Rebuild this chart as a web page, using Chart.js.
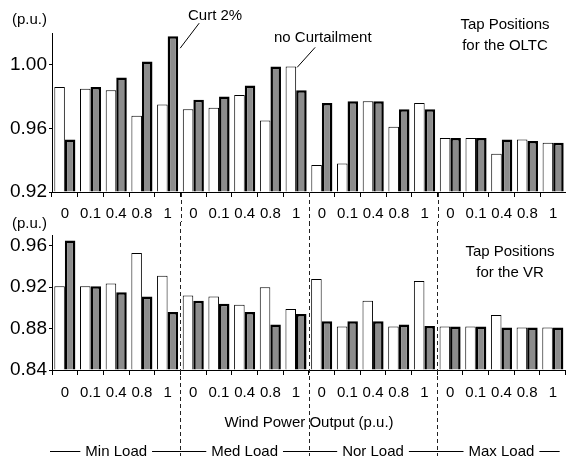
<!DOCTYPE html>
<html>
<head>
<meta charset="utf-8">
<script src="https://cdn.jsdelivr.net/npm/chart.js@4/dist/chart.umd.min.js"></script>
<style>
html,body{margin:0;padding:0;background:#fff;}
#wrap{position:relative;width:566px;height:456px;overflow:hidden;font-family:"Liberation Sans",Arial,sans-serif;color:#000;background:#fff;}
.cv{position:absolute;left:0;width:566px;}
.t{position:absolute;font-size:15px;line-height:18px;white-space:nowrap;}
.c2{position:absolute;font-size:15px;line-height:21px;white-space:nowrap;text-align:center;transform:translateX(-50%);}
</style>
</head>
<body>
<div id="wrap">
  <div class="cv" style="top:0;height:222px"><canvas id="oltc"></canvas></div>
  <div class="cv" style="top:222px;height:234px"><canvas id="vr"></canvas></div>
  <div class="t" style="left:12px;top:10px">(p.u.)</div>
  <div class="t" style="left:12px;top:214px">(p.u.)</div>
  <div class="t" style="left:188px;top:6px">Curt 2%</div>
  <div class="t" style="left:274px;top:28px">no Curtailment</div>
  <div class="c2" style="left:505px;top:13px">Tap Positions<br>for the OLTC</div>
  <div class="c2" style="left:510px;top:240px">Tap Positions<br>for the VR</div>
  <div class="t" style="left:309px;top:413px;transform:translateX(-50%)">Wind Power Output (p.u.)</div>
</div>
<script>
const windLevels = ['0', '0.1', '0.4', '0.8', '1'];
const loadLevels = ['Min Load', 'Med Load', 'Nor Load', 'Max Load'];
const categories = loadLevels.flatMap(() => windLevels);

const oltcNoCurt = [0.986, 0.985, 0.984, 0.968, 0.975, 0.972, 0.973, 0.981, 0.965, 0.999,
                    0.937, 0.938, 0.977, 0.961, 0.976, 0.954, 0.954, 0.944, 0.953, 0.951];
const oltcCurt2  = [0.953, 0.986, 0.992, 1.002, 1.018, 0.978, 0.980, 0.987, 0.999, 0.984,
                    0.976, 0.977, 0.977, 0.972, 0.972, 0.954, 0.954, 0.953, 0.952, 0.951];
const vrNoCurt   = [0.921, 0.921, 0.9235, 0.953, 0.931, 0.912, 0.911, 0.903, 0.920, 0.899,
                    0.928, 0.882, 0.907, 0.882, 0.926, 0.882, 0.882, 0.893, 0.881, 0.881];
const vrCurt2    = [0.965, 0.921, 0.915, 0.911, 0.896, 0.907, 0.904, 0.896, 0.884, 0.894,
                    0.887, 0.887, 0.887, 0.884, 0.8825, 0.882, 0.882, 0.881, 0.881, 0.881];

const oltcYTicks = [0.92, 0.96, 1.00];
const vrYTicks = [0.84, 0.88, 0.92, 0.96];
const oltcRange = [0.92, 1.02];
const vrRange = [0.84, 0.97];

const FONT = '"Liberation Sans", Arial, sans-serif';
const groupSize = windLevels.length;

function separatorXs(xs) {
  const out = [];
  for (let g = 1; g < loadLevels.length; g++) {
    const i = g * groupSize;
    out.push(Math.round((xs.getPixelForValue(i - 1) + xs.getPixelForValue(i)) / 2) + 0.5);
  }
  return out;
}

const oltcDecor = {
  id: 'oltcDecor',
  afterDraw(chart) {
    const ctx = chart.ctx, xs = chart.scales.x, area = chart.chartArea;
    ctx.save();
    ctx.strokeStyle = '#222';
    ctx.lineWidth = 1;
    ctx.setLineDash([4, 3]);
    for (const x of separatorXs(xs)) {
      ctx.beginPath(); ctx.moveTo(x, area.bottom + 1); ctx.lineTo(x, chart.height); ctx.stroke();
    }
    ctx.setLineDash([]);
    ctx.strokeStyle = '#000';
    // leader line to "Curt 2%"
    const c = chart.getDatasetMeta(1).data[4].getProps(['x', 'y', 'width'], true);
    const cr = c.x + c.width / 2;
    ctx.beginPath(); ctx.moveTo(cr + 2, c.y + 12); ctx.lineTo(cr + 21, c.y - 13); ctx.stroke();
    // leader line to "no Curtailment"
    const n = chart.getDatasetMeta(0).data[9].getProps(['x', 'y', 'width'], true);
    const nr = n.x + n.width / 2;
    ctx.beginPath(); ctx.moveTo(nr + 1, n.y + 1); ctx.lineTo(nr + 19, n.y - 19); ctx.stroke();
    ctx.restore();
  }
};

const vrDecor = {
  id: 'vrDecor',
  afterDraw(chart) {
    const ctx = chart.ctx, xs = chart.scales.x;
    ctx.save();
    ctx.strokeStyle = '#222';
    ctx.lineWidth = 1;
    ctx.setLineDash([4, 3]);
    for (const x of separatorXs(xs)) {
      ctx.beginPath(); ctx.moveTo(x, 0); ctx.lineTo(x, chart.height); ctx.stroke();
    }
    ctx.setLineDash([]);
    // load group labels with lines
    ctx.font = '15px ' + FONT;
    ctx.fillStyle = '#000';
    ctx.strokeStyle = '#000';
    ctx.textAlign = 'center';
    ctx.textBaseline = 'alphabetic';
    const lineY = 229.5;
    const startX = xs.left - 2, endX = xs.right - 6;
    let cursor = startX;
    loadLevels.forEach((lab, g) => {
      const cx = (xs.getPixelForValue(g * groupSize) + xs.getPixelForValue(g * groupSize + groupSize - 1)) / 2;
      const w = ctx.measureText(lab).width;
      ctx.beginPath(); ctx.moveTo(cursor, lineY); ctx.lineTo(cx - w / 2 - 5, lineY); ctx.stroke();
      ctx.fillText(lab, cx, 234);
      cursor = cx + w / 2 + 5;
    });
    ctx.beginPath(); ctx.moveTo(cursor, lineY); ctx.lineTo(endX, lineY); ctx.stroke();
    ctx.restore();
  }
};

function build(id, noCurt, curt, range, yTicks, padTop, xH, labelPad, plugin) {
  return new Chart(document.getElementById(id), {
    type: 'bar',
    data: {
      labels: categories,
      datasets: [
        { label: 'no Curtailment', data: noCurt, backgroundColor: '#ffffff', borderColor: '#000', borderWidth: 1, base: range[0] },
        { label: 'Curt 2%', data: curt, backgroundColor: '#8c8c8c', borderColor: '#000', borderWidth: 2.5, base: range[0] }
      ]
    },
    options: {
      responsive: true,
      maintainAspectRatio: false,
      animation: false,
      devicePixelRatio: 1,
      layout: { padding: { top: padTop, left: 0, right: 0, bottom: 0 } },
      plugins: { legend: { display: false }, tooltip: { enabled: false } },
      datasets: { bar: { categoryPercentage: 0.82, barPercentage: 1 } },
      scales: {
        x: {
          grid: { display: true, drawOnChartArea: false, drawTicks: true, tickLength: 5, tickColor: '#000', offset: true },
          border: { display: true, color: '#000', width: 1 },
          ticks: { color: '#000', font: { family: FONT, size: 15 }, padding: labelPad, maxRotation: 0, autoSkip: false },
          afterFit(s) { s.height = xH; }
        },
        y: {
          min: range[0], max: range[1],
          grid: { drawOnChartArea: false, drawTicks: true, tickLength: 3, tickColor: '#000' },
          border: { display: true, color: '#000', width: 1 },
          afterBuildTicks(s) { s.ticks = yTicks.map(v => ({ value: v })); },
          ticks: { color: '#000', font: { family: FONT, size: 19 }, padding: 2, callback: v => Number(v).toFixed(2) },
          afterFit(s) { s.width = 52; }
        }
      }
    },
    plugins: [plugin]
  });
}

build('oltc', oltcNoCurt, oltcCurt2, oltcRange, oltcYTicks, 33, 30, 8, oltcDecor);
build('vr', vrNoCurt, vrCurt2, vrRange, vrYTicks, 13, 86, 9, vrDecor);
</script>
</body>
</html>
